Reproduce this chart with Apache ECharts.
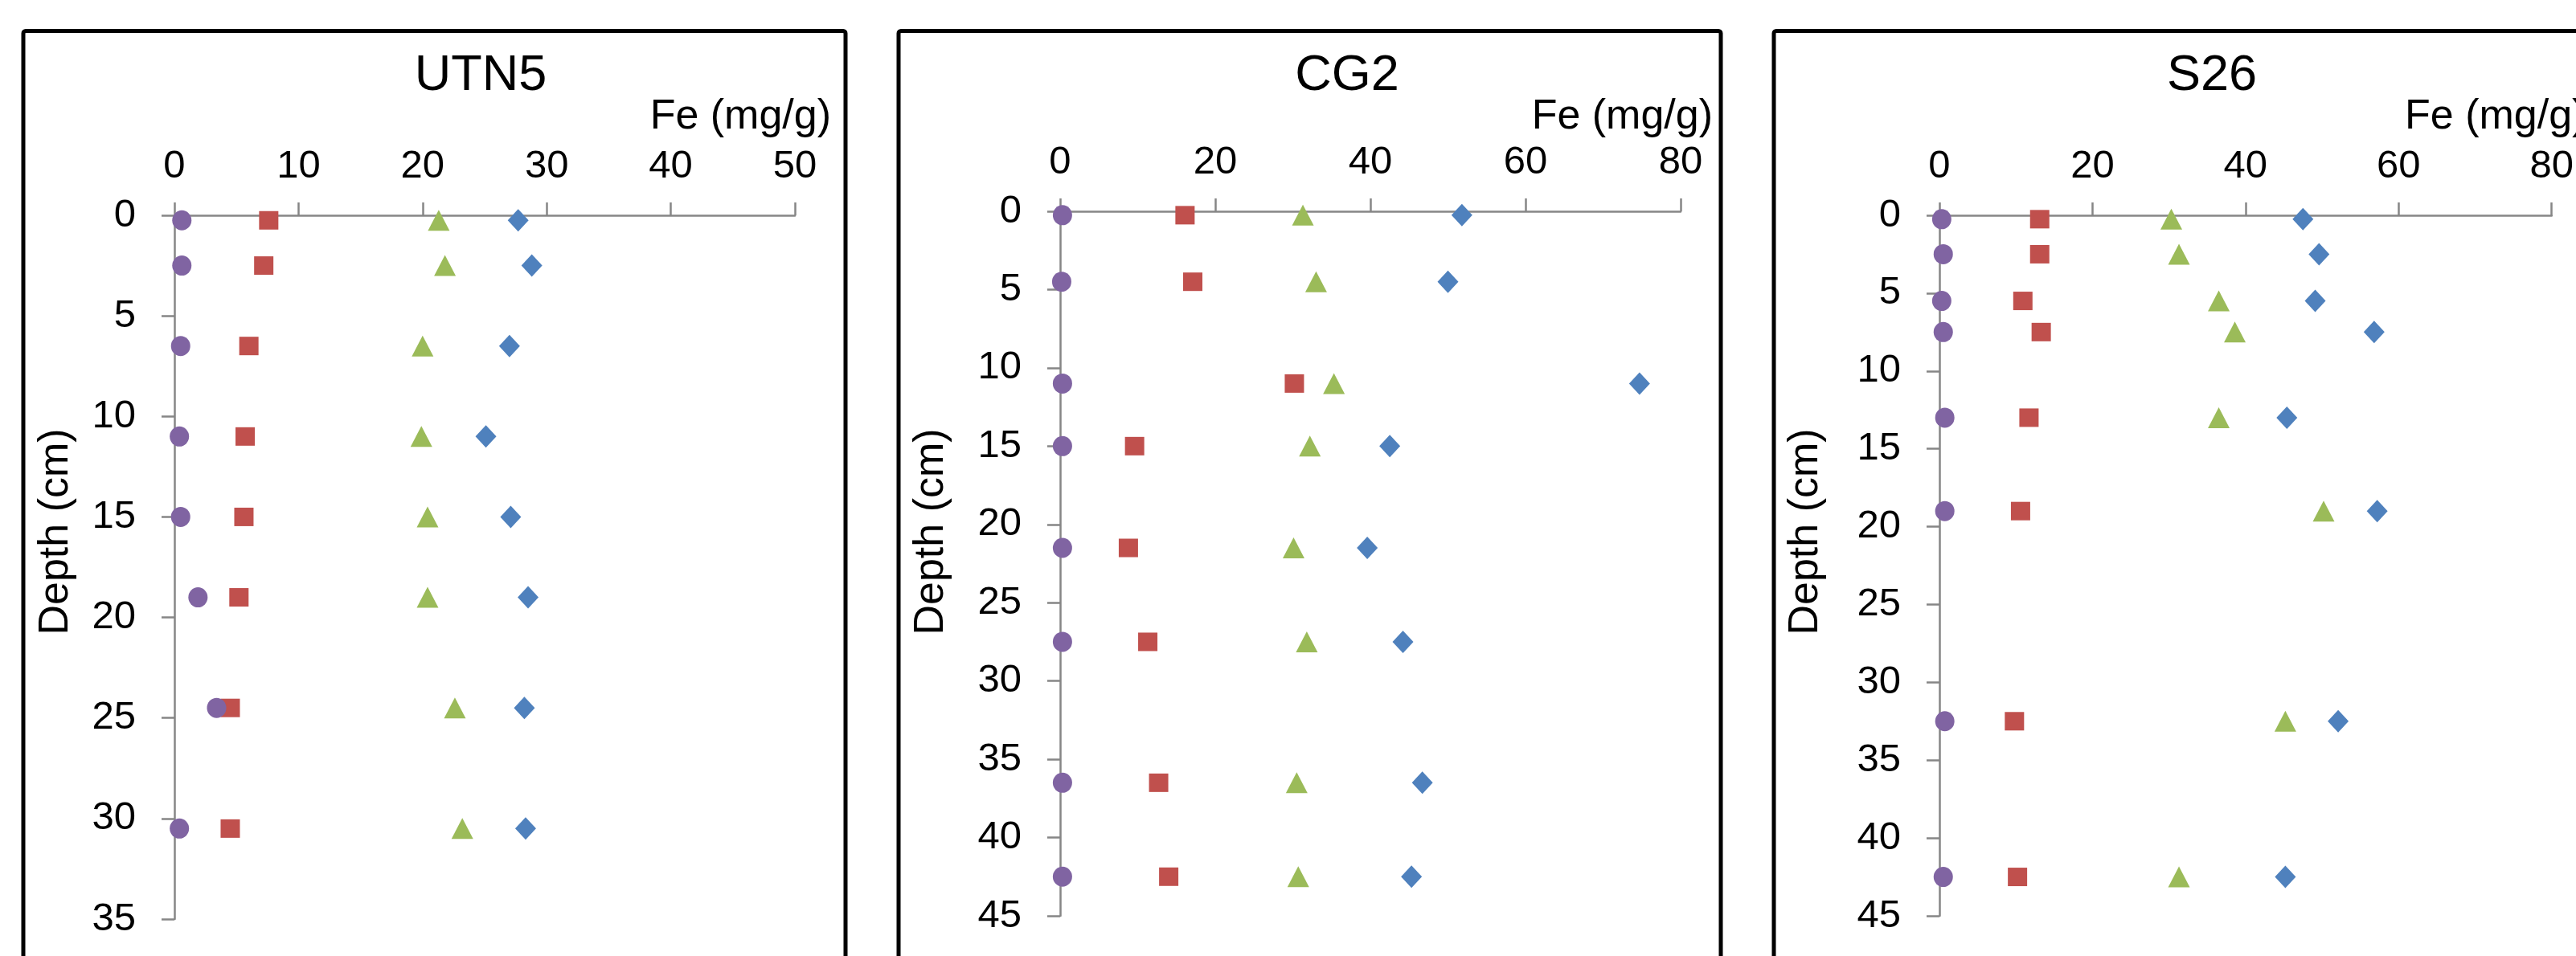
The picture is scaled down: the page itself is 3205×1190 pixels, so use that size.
<!DOCTYPE html>
<html>
<head>
<meta charset="utf-8">
<title>Fe depth profiles</title>
<script src="https://cdn.jsdelivr.net/npm/echarts@6/dist/echarts.min.js"></script>
<style>
  html, body { margin: 0; padding: 0; background: #fff; }
  #chart { width: 3205px; height: 1190px; }
</style>
</head>
<body>
<div id="chart"></div>
<script>
// site names (panel titles)
const sites = ['UTN5', 'CG2', 'S26']

// sample depths (cm)
const depthUTN5 = [0.25, 2.5, 6.5, 11, 15, 19, 24.5, 30.5]
const depthCG2 = [0.25, 4.5, 11, 15, 21.5, 27.5, 36.5, 42.5]
const depthS26 = [0.25, 2.5, 5.5, 7.5, 13, 19, 32.5, 42.5]

// Fe (mg/g), one array per marker series
const utn5Diamond = [27.7, 28.8, 27.0, 25.1, 27.1, 28.5, 28.2, 28.3]
const utn5Square = [7.6, 7.2, 6.0, 5.7, 5.6, 5.2, 4.5, 4.5]
const utn5Triangle = [21.3, 21.8, 20.0, 19.9, 20.4, 20.4, 22.6, 23.2]
const utn5Circle = [0.6, 0.6, 0.5, 0.4, 0.5, 1.9, 3.4, 0.4]

const cg2Diamond = [51.8, 50.0, 74.7, 42.5, 39.6, 44.2, 46.7, 45.3]
const cg2Square = [16.1, 17.1, 30.2, 9.6, 8.8, 11.3, 12.7, 14.0]
const cg2Triangle = [31.3, 33.0, 35.3, 32.2, 30.1, 31.8, 30.5, 30.7]
const cg2Circle = [0.3, 0.2, 0.3, 0.3, 0.3, 0.3, 0.3, 0.3]

const s26Diamond = [47.5, 49.6, 49.1, 56.8, 45.4, 57.2, 52.1, 45.2]
const s26Square = [13.1, 13.1, 10.9, 13.3, 11.7, 10.6, 9.8, 10.2]
const s26Triangle = [30.3, 31.3, 36.5, 38.6, 36.5, 50.2, 45.2, 31.3]
const s26Circle = [0.3, 0.5, 0.3, 0.5, 0.7, 0.7, 0.7, 0.5]

// axis ticks
const feTicksUTN5 = { max: 50, step: 10 }
const feTicksOther = { max: 80, step: 20 }
const depthTicksUTN5 = { max: 35, step: 5 }
const depthTicksOther = { max: 45, step: 5 }

const FONT = "'Liberation Sans', Arial, sans-serif"
const AXIS_GRAY = '#868686'

const markers = [
  { name: 'Series1', symbol: 'diamond', size: [26, 28], color: '#4F81BD' },
  { name: 'Series2', symbol: 'rect', size: [24, 23], color: '#C0504D' },
  { name: 'Series3', symbol: 'triangle', size: [27, 26], color: '#9BBB59' },
  { name: 'Series4', symbol: 'circle', size: [24, 25], color: '#8064A2' }
]

const panels = [
  {
    site: sites[0], depth: depthUTN5,
    values: [utn5Diamond, utn5Square, utn5Triangle, utn5Circle],
    fe: feTicksUTN5, dep: depthTicksUTN5,
    grid: { left: 217, top: 268, width: 772, height: 876 },
    box: 29, titleX: 598, unitX: 1034, unitAlign: 'right', depthX: 70
  },
  {
    site: sites[1], depth: depthCG2,
    values: [cg2Diamond, cg2Square, cg2Triangle, cg2Circle],
    fe: feTicksOther, dep: depthTicksOther,
    grid: { left: 1319, top: 263, width: 772, height: 877 },
    box: 1118, titleX: 1676, unitX: 2131, unitAlign: 'right', depthX: 1159
  },
  {
    site: sites[2], depth: depthS26,
    values: [s26Diamond, s26Square, s26Triangle, s26Circle],
    fe: feTicksOther, dep: depthTicksOther,
    grid: { left: 2413, top: 268, width: 771, height: 872 },
    box: 2207, titleX: 2752, unitX: 2992, unitAlign: 'left', depthX: 2247
  }
]

const grids = []
const xAxes = []
const yAxes = []
const series = []
const graphics = []

panels.forEach((p, i) => {
  grids.push(p.grid)
  xAxes.push({
    gridIndex: i,
    type: 'value',
    position: 'top',
    min: 0,
    max: p.fe.max,
    interval: p.fe.step,
    splitLine: { show: false },
    axisLine: { show: true, onZero: false, lineStyle: { color: AXIS_GRAY, width: 2.5 } },
    axisTick: { show: true, length: 16, lineStyle: { color: AXIS_GRAY, width: 2.5 } },
    axisLabel: { color: '#000', fontSize: 49, fontFamily: FONT, margin: 36, showMinLabel: true, showMaxLabel: true }
  })
  yAxes.push({
    gridIndex: i,
    type: 'value',
    inverse: true,
    min: 0,
    max: p.dep.max,
    interval: p.dep.step,
    splitLine: { show: false },
    axisLine: { show: true, onZero: false, lineStyle: { color: AXIS_GRAY, width: 2.5 } },
    axisTick: { show: true, length: 16, lineStyle: { color: AXIS_GRAY, width: 2.5 } },
    axisLabel: { color: '#000', fontSize: 49, fontFamily: FONT, margin: 48, showMinLabel: true, showMaxLabel: true }
  })
  markers.forEach((m, k) => {
    series.push({
      name: p.site + ' ' + m.name,
      type: 'scatter',
      xAxisIndex: i,
      yAxisIndex: i,
      symbol: m.symbol,
      symbolSize: m.size,
      itemStyle: { color: m.color, opacity: 1 },
      data: p.values[k].map((v, j) => [v, p.depth[j]])
    })
  })

  // panel frame (bottom / right run off the picture)
  graphics.push({
    type: 'rect',
    shape: { x: p.box, y: 38.5, width: 1023, height: 1400, r: 3 },
    style: { fill: 'none', stroke: '#000', lineWidth: 5 },
    z: 0
  })
  graphics.push({
    type: 'text',
    x: p.titleX, y: 95,
    style: { text: p.site, font: '63px ' + FONT, fill: '#000', textAlign: 'center', textVerticalAlign: 'middle' }
  })
  graphics.push({
    type: 'text',
    x: p.unitX, y: 146,
    style: { text: 'Fe (mg/g)', font: '52px ' + FONT, fill: '#000', textAlign: p.unitAlign, textVerticalAlign: 'middle' }
  })
  graphics.push({
    type: 'text',
    x: p.depthX, y: 662,
    rotation: Math.PI / 2,
    style: { text: 'Depth (cm)', font: '52px ' + FONT, fill: '#000', textAlign: 'center', textVerticalAlign: 'middle' }
  })
})

const myChart = echarts.init(document.getElementById('chart'))
myChart.setOption({
  backgroundColor: '#FFF',
  animation: false,
  grid: grids,
  xAxis: xAxes,
  yAxis: yAxes,
  series: series,
  graphic: graphics
})
</script>
</body>
</html>
